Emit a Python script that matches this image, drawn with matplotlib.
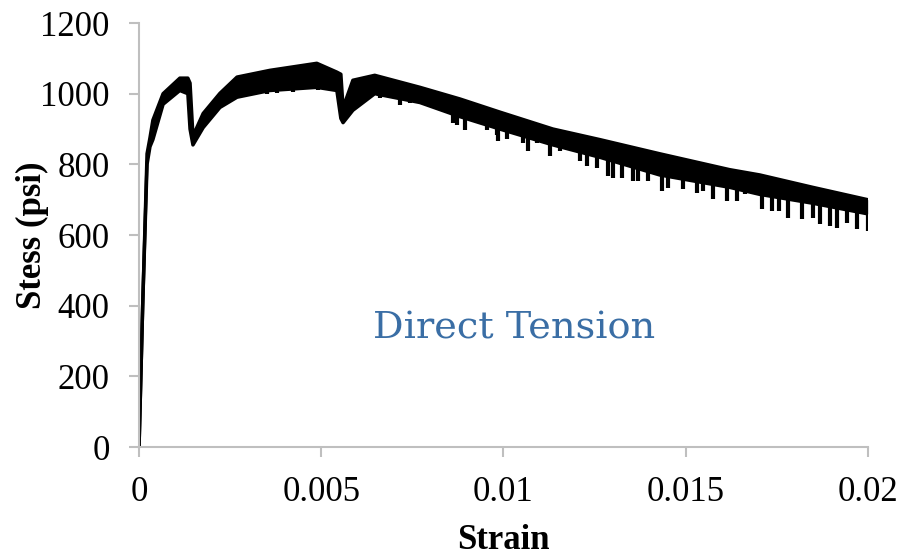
import numpy as np
import matplotlib.pyplot as plt

# stress-strain band (upper edge / dense lower edge)
strain = [0, 0.00010, 0.00022, 0.00030, 0.00038, 0.00066, 0.00112, 0.00134,
          0.00140, 0.00148, 0.00176, 0.00222, 0.00269, 0.00359, 0.00488,
          0.00543, 0.00554, 0.00560, 0.00587, 0.00647, 0.00771, 0.00881,
          0.00990, 0.01136, 0.01265, 0.01429, 0.01621, 0.01704, 0.01849, 0.02]
upper = [0, 400, 830, 875, 925, 1000, 1044, 1044,
         1030, 880, 944, 1001, 1047, 1066, 1086,
         1061, 1055, 960, 1038, 1052, 1018, 985,
         948, 900, 870, 830, 785, 770, 735, 700]
lower = [0, 400, 800, 850, 870, 970, 1009, 1000,
         900, 855, 904, 961, 990, 1009, 1018,
         1009, 930, 918, 953, 1000, 975, 935,
         900, 855, 820, 770, 735, 715, 690, 660]

# downward noise spikes below the dense band
spike_strain = [0.00324, 0.00351, 0.00379, 0.00422, 0.00491, 0.00661, 0.00716,
                0.00744, 0.00798, 0.00861, 0.00872, 0.00894, 0.00955, 0.00982,
                0.00985, 0.01010, 0.01054, 0.01067, 0.01092, 0.01128, 0.01155,
                0.01191, 0.01210, 0.01229, 0.01257, 0.01287, 0.01300, 0.01325,
                0.01355, 0.01369, 0.01396, 0.01435, 0.01451, 0.01492, 0.01531,
                0.01547, 0.01575, 0.01613, 0.01641, 0.01662, 0.01709, 0.01737,
                0.01758, 0.01781, 0.01819, 0.01849, 0.01868, 0.01896, 0.01915,
                0.01942, 0.01970, 0.02]
spike_stress = [1001, 1000, 1001, 1004, 1010, 987, 967,
                973, 961, 918, 910, 896, 896, 882,
                867, 873, 861, 839, 861, 825, 839,
                839, 810, 796, 791, 768, 762, 762,
                754, 754, 754, 725, 734, 731, 720,
                725, 702, 697, 697, 716, 674, 668,
                668, 648, 645, 648, 631, 626, 620,
                634, 617, 612]

fig = plt.figure(figsize=(9.04, 5.56), dpi=100)
ax = fig.add_axes([0.1538, 0.196, 0.806, 0.7626])

ax.fill_between(strain, lower, upper, color="black", lw=0)
ax.plot(strain, upper, color="black", lw=2.5, solid_capstyle="round")
ax.plot(strain, lower, color="black", lw=2.5, solid_capstyle="round")

# spikes hang from the band's lower edge
base = np.interp(spike_strain, strain, lower)
ax.vlines(spike_strain, spike_stress, base, color="black", lw=3)

ax.set_xlim(0, 0.02)
ax.set_ylim(0, 1200)
ax.set_xticks([0, 0.005, 0.01, 0.015, 0.02])
ax.set_xticklabels(["0", "0.005", "0.01", "0.015", "0.02"])
ax.set_yticks(range(0, 1201, 200))

for s in ["top", "right"]:
    ax.spines[s].set_visible(False)
for s in ["left", "bottom"]:
    ax.spines[s].set_color("#bfbfbf")
    ax.spines[s].set_linewidth(1.5)
ax.tick_params(colors="#bfbfbf", length=7, width=1.5, labelcolor="black",
               labelsize=25, pad=14)
for lab in ax.get_xticklabels() + ax.get_yticklabels():
    lab.set_family("Liberation Serif")

ax.set_xlabel("Strain", family="Liberation Serif", fontweight="bold",
              fontsize=25, labelpad=11)
ax.set_ylabel("Stess (psi)", family="Liberation Serif", fontweight="bold",
              fontsize=25, labelpad=-6)

ax.text(0.01029, 335, "Direct Tension", color="#3a6ea5", fontsize=27.5,
        family="DejaVu Serif", ha="center", va="center")

fig.savefig("out.png", dpi=100)
